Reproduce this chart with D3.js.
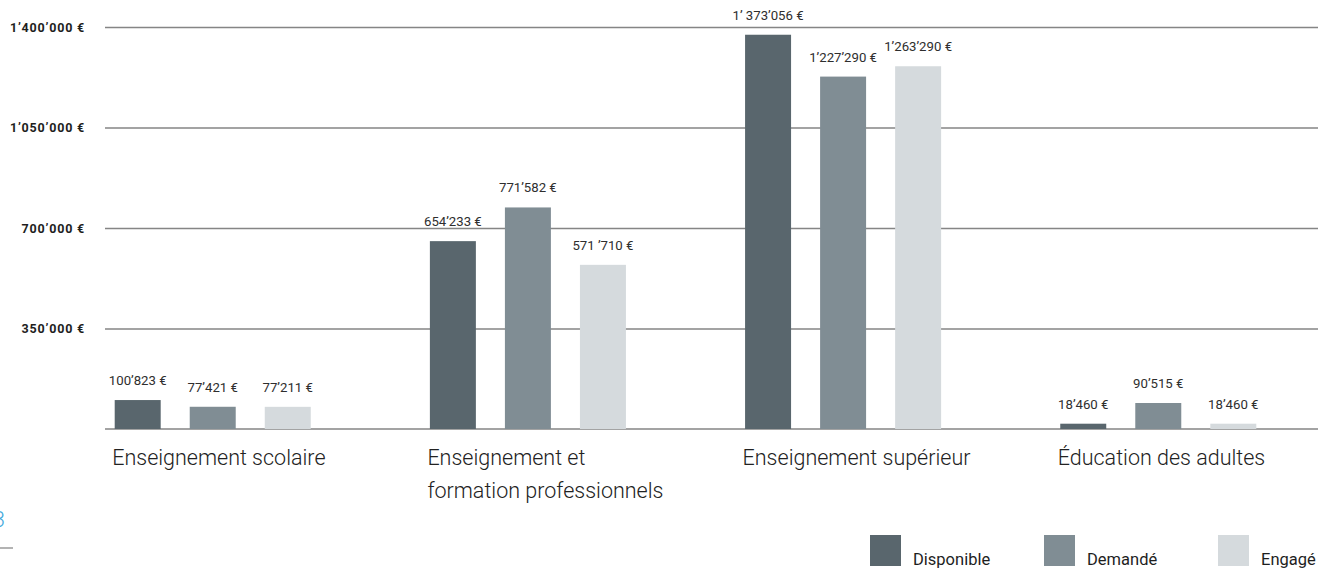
<!DOCTYPE html>
<html><head><meta charset="utf-8">
<script src="https://cdn.jsdelivr.net/npm/d3@7"></script>
<style>html,body{margin:0;padding:0;background:#fff;} svg{display:block;font-family:Roboto,"Noto Sans",sans-serif;}</style>
</head><body><svg id="chart" width="1320" height="568"></svg>
<script>
const categories = ["Enseignement scolaire", "Enseignement et\nformation professionnels", "Enseignement supérieur", "Éducation des adultes"];
const series = ["Disponible", "Demandé", "Engagé"];
const disponible = [100823, 654233, 1373056, 18460];
const demande = [77421, 771582, 1227290, 90515];
const engage = [77211, 571710, 1263290, 18460];
const disponibleLabels = ["100’823 €", "654’233 €", "1’ 373’056 €", "18’460 €"];
const demandeLabels = ["77’421 €", "771’582 €", "1’227’290 €", "90’515 €"];
const engageLabels = ["77’211 €", "571 ’710 €", "1’263’290 €", "18’460 €"];
const yTicks = [350000, 700000, 1050000, 1400000];
const yTickLabels = ["350’000 €", "700’000 €", "1’050’000 €", "1’400’000 €"];
const colors = ["#59666d", "#808d94", "#d5dadd"];

const seriesValues = [disponible, demande, engage];
const seriesLabels = [disponibleLabels, demandeLabels, engageLabels];
const rows = categories.map((c, i) => ({
  cat: c,
  vals: series.map((s, j) => ({ s, v: seriesValues[j][i], label: seriesLabels[j][i] }))
}));

const svg = d3.select("#chart");
const gridLeft = 105, gridRight = 1318;

const x0 = d3.scaleBand().domain(categories).range([114.7, 1256.3]).paddingInner(0.378).paddingOuter(0);
const x1 = d3.scaleBand().domain(series).range([0, x0.bandwidth()]).paddingInner(0.387).paddingOuter(0);
const y = d3.scaleLinear().domain([0, 1400000]).range([429, 27]);
const color = d3.scaleOrdinal().domain(series).range(colors);

// y axis with gridlines
const yAxis = svg.append("g")
  .attr("transform", `translate(${gridLeft},0)`)
  .call(d3.axisLeft(y).tickValues(yTicks).tickFormat((d, i) => yTickLabels[i])
    .tickSize(-(gridRight - gridLeft)).tickPadding(20));
yAxis.select(".domain").remove();
yAxis.selectAll(".tick line").attr("stroke", "#858585").attr("stroke-width", 1.5);
yAxis.selectAll(".tick text")
  .attr("fill", "#1e1e1e")
  .style("font-family", "Roboto, sans-serif")
  .style("font-size", "12.5px")
  .style("font-weight", "700")
  .style("letter-spacing", "0.8px");

// baseline
svg.append("line")
  .attr("x1", gridLeft).attr("x2", gridRight)
  .attr("y1", y(0)).attr("y2", y(0))
  .attr("stroke", "#858585").attr("stroke-width", 1.5);

// bars
const groups = svg.append("g").selectAll("g").data(rows).join("g")
  .attr("transform", d => `translate(${x0(d.cat)},0)`);

groups.selectAll("rect").data(d => d.vals).join("rect")
  .attr("x", d => x1(d.s))
  .attr("y", d => y(d.v))
  .attr("width", x1.bandwidth())
  .attr("height", d => y(0) - y(d.v))
  .attr("fill", d => color(d.s));

groups.selectAll("text.val").data(d => d.vals).join("text")
  .attr("class", "val")
  .attr("x", d => x1(d.s) + x1.bandwidth() / 2)
  .attr("y", d => y(d.v) - 15)
  .attr("text-anchor", "middle")
  .attr("fill", "#2e2e2e")
  .style("font-size", "13.2px")
  .text(d => d.label);

// category labels
const catText = svg.append("g").selectAll("text").data(categories).join("text")
  .attr("x", d => x0(d) - 2.5)
  .attr("y", 465)
  .attr("fill", "#222")
  .style("font-size", "21.5px")
  .style("font-weight", "300");
catText.selectAll("tspan").data(d => d.split("\n")).join("tspan")
  .attr("x", function () { return d3.select(this.parentNode).attr("x"); })
  .attr("dy", (d, i) => i === 0 ? 0 : 33)
  .text(d => d);

// legend
const lx = d3.scalePoint().domain(series).range([870, 1218]);
const leg = svg.append("g").selectAll("g").data(series).join("g")
  .attr("transform", d => `translate(${lx(d)},535)`);
leg.append("rect").attr("width", 31).attr("height", 31).attr("fill", d => color(d));
leg.append("text").attr("x", 43).attr("y", 30)
  .attr("fill", "#1e1e1e").style("font-size", "16.5px").text(d => d);

// page number fragment at lower left
svg.append("text").attr("x", 5).attr("y", 527).attr("text-anchor", "end")
  .attr("fill", "#45a9dc").style("font-size", "22px").style("font-weight", "300").text("3");
svg.append("line").attr("x1", 0).attr("x2", 13).attr("y1", 548).attr("y2", 548)
  .attr("stroke", "#9a9a9a").attr("stroke-width", 1.5);
svg.append("text").attr("x", 5).attr("y", 584).attr("text-anchor", "end")
  .attr("fill", "#45a9dc").style("font-size", "22px").style("font-weight", "300").text("6");
</script>
</body></html>
